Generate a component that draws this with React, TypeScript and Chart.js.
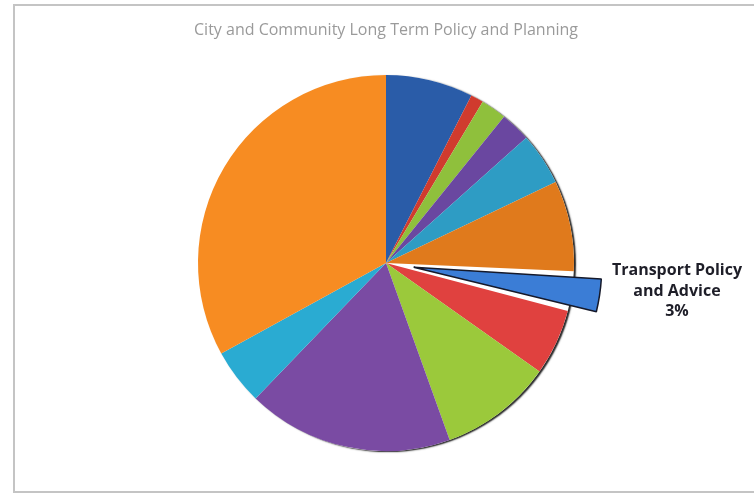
import React, { useEffect, useRef } from "react";
import { Chart, registerables } from "chart.js";

Chart.register(...registerables);

const TITLE = "City and Community Long Term Policy and Planning";
const categories = [
  "Category 1",
  "Category 2",
  "Category 3",
  "Category 4",
  "Category 5",
  "Category 6",
  "Transport Policy and Advice",
  "Category 8",
  "Category 9",
  "Category 10",
  "Category 11",
  "Category 12",
];
const shares = [7.5, 1.1, 2.2, 2.6, 4.5, 7.8, 3.4, 5.7, 9.7, 17.7, 4.8, 33.0];
const colors = [
  "#2A5CA8",
  "#D03B2E",
  "#8FC03C",
  "#6A47A0",
  "#2E9CC4",
  "#E07A1C",
  "#3B7DD6",
  "#E0413F",
  "#9BC93B",
  "#7A4BA3",
  "#2AABD2",
  "#F78C22",
];
const EXPLODED = 6;
const RADIUS = 188;
const SHIFT = 28;

export default function App() {
  const ref = useRef<HTMLCanvasElement>(null);

  useEffect(() => {
    if (!ref.current) return;

    const framePlugin = {
      id: "frame",
      beforeDraw(chart: any) {
        const ctx = chart.ctx;
        ctx.save();
        ctx.fillStyle = "#ffffff";
        ctx.fillRect(0, 0, chart.width, chart.height);
        ctx.strokeStyle = "#c4c4c4";
        ctx.lineWidth = 2;
        ctx.strokeRect(14, 5, chart.width + 10, chart.height - 8);
        ctx.restore();
      },
    };

    const fixRadiusPlugin = {
      id: "fixRadius",
      afterDatasetsUpdate(chart: any) {
        const meta = chart.getDatasetMeta(0);
        const arc = meta.data[EXPLODED];
        if (!arc) return;
        const circ = arc.circumference;
        const fix = 1 - Math.sin(Math.min(Math.PI, circ));
        arc.outerRadius = RADIUS - SHIFT * fix;
      },
    };

    const shadowPlugin = {
      id: "pieShadow",
      beforeDatasetsDraw(chart: any) {
        const meta = chart.getDatasetMeta(0);
        const arc = meta.data[0];
        if (!arc) return;
        const ctx = chart.ctx;
        ctx.save();
        ctx.shadowColor = "rgba(0,0,0,0.85)";
        ctx.shadowBlur = 1.5;
        ctx.shadowOffsetX = 2;
        ctx.shadowOffsetY = 1;
        ctx.fillStyle = "#ffffff";
        ctx.beginPath();
        ctx.arc(arc.x, arc.y, RADIUS, 0, Math.PI * 2);
        ctx.fill();
        ctx.restore();
      },
    };

    const labelPlugin = {
      id: "sliceLabel",
      afterDatasetsDraw(chart: any) {
        const meta = chart.getDatasetMeta(0);
        const arc = meta.data[EXPLODED];
        if (!arc) return;
        const total = shares.reduce((a, b) => a + b, 0);
        const pct = Math.round((shares[EXPLODED] / total) * 100) + "%";
        const words = categories[EXPLODED].split(" ");
        const lines = [words.slice(0, 2).join(" "), words.slice(2).join(" "), pct];
        const ctx = chart.ctx;
        ctx.save();
        ctx.font = "bold 16px 'Open Sans'";
        ctx.fillStyle = "#1e1e28";
        ctx.textAlign = "center";
        ctx.textBaseline = "middle";
        const cx = arc.x + RADIUS + 103;
        const cy = arc.y + 28;
        lines.forEach((l, i) => ctx.fillText(l, cx, cy + (i - 1) * 20.5));
        ctx.restore();
      },
    };

    const chart = new Chart(ref.current, {
      type: "pie",
      data: {
        labels: categories,
        datasets: [
          {
            data: shares,
            backgroundColor: colors,
            borderWidth: shares.map((_, i) => (i === EXPLODED ? 1.5 : 0)),
            borderColor: shares.map((_, i) => (i === EXPLODED ? "#15192a" : "rgba(0,0,0,0)")),
            offset: shares.map((_, i) => (i === EXPLODED ? SHIFT * 4 : 0)),
            radius: RADIUS,
          } as any,
        ],
      },
      options: {
        responsive: false,
        animation: false,
        layout: { padding: { top: 11, left: 18, right: 0, bottom: 31.6 } },
        plugins: {
          legend: { display: false },
          tooltip: { enabled: false },
          title: {
            display: true,
            text: TITLE,
            color: "#9a9a9a",
            font: { family: "'Open Sans'", size: 16, weight: "normal" },
            padding: { top: 10, bottom: 22.4 },
          },
        },
      },
      plugins: [framePlugin, fixRadiusPlugin, shadowPlugin, labelPlugin],
    });

    return () => chart.destroy();
  }, []);

  return (
    <div style={{ position: "fixed", left: 0, top: 0, width: 754, height: 495 }}>
      <canvas ref={ref} width={754} height={495} />
    </div>
  );
}
